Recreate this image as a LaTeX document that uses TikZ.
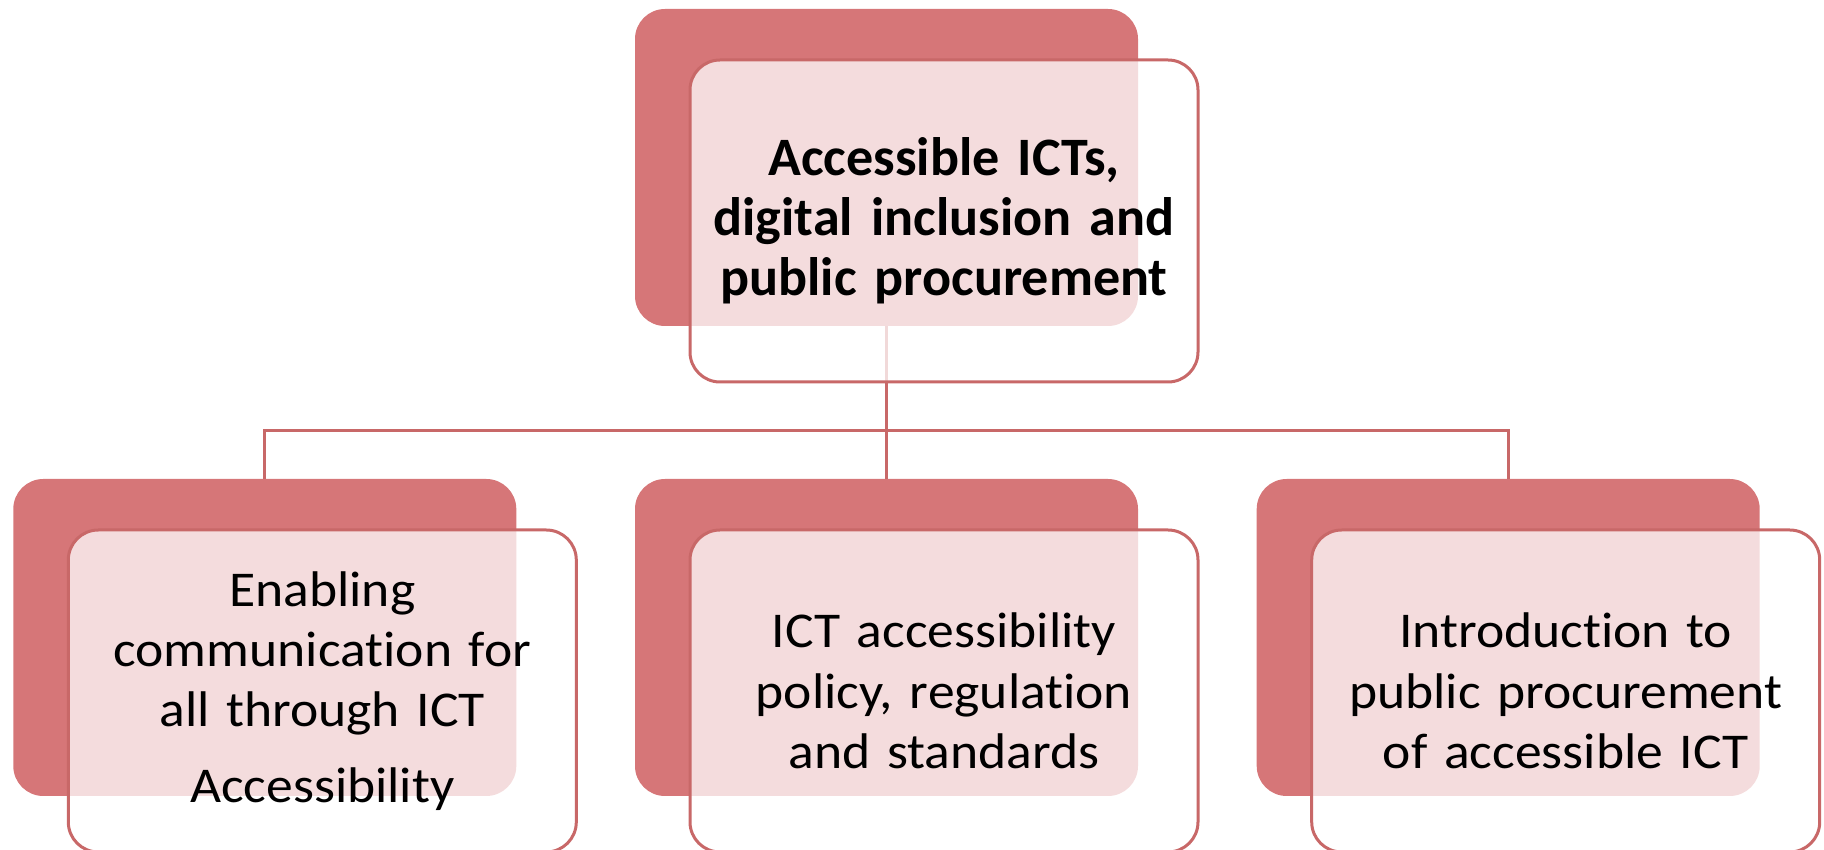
\documentclass[tikz,border=0pt]{standalone}
\usepackage{fontspec}
\setmainfont{Carlito}[Ligatures=NoCommon]
\newfontfamily\boxfont{Carlito}[Ligatures=NoCommon, FakeStretch=1.07, WordSpace=0.75]
\usepackage{tikz}
\usetikzlibrary{positioning,calc}
\definecolor{dfred}{RGB}{200,104,104}
\definecolor{dfbackred}{RGB}{214,118,120}
\tikzstyle{link} = [line width=0.06cm, color=dfred]
\tikzstyle{backbox} = [rectangle, rounded corners=0.6cm, minimum width=10.06cm, minimum height=6.34cm, fill=dfbackred]
\tikzstyle{frontbox} = [rectangle, rounded corners=0.6cm, minimum width=10.16cm, minimum height=6.44cm, draw=dfred, line width=0.06cm, fill=white, fill opacity=0.75, text opacity=1, text width=9.8cm, align=center, font=\boxfont\fontsize{28.5}{34.3}\selectfont]

\begin{document}
\begin{tikzpicture}
\useasboundingbox (0,0) rectangle (36.48,17);
% Back boxes
\node[backbox] (tb) at (17.73,13.65) {};
\node[backbox] (mb) at (17.73,4.25) {};
\node[backbox, left=2.36cm of mb] (lb) {};
\node[backbox, right=2.36cm of mb] (rb) {};
% Connectors
\draw[link] (tb.south) -- ++(0,-2.08) coordinate (bus);
\draw[link] (bus) -| (lb.north);
\draw[link] (bus) -- (mb.north);
\draw[link] (bus) -| (rb.north);
% Front boxes
\node[frontbox, font=\fontsize{30.8}{34.3}\selectfont\bfseries] (tf) at ([shift={(1.15,-1.07)}]tb) {Accessible ICTs,\\ digital inclusion and\\ public procurement};
\node[frontbox] (lf) at ([shift={(1.15,-1.07)}]lb) {Enabling\\ communication for\\ all through ICT\\[0.3cm] Accessibility};
\node[frontbox] (mf) at ([shift={(1.15,-1.07)}]mb) {ICT accessibility\\ policy, regulation\\ and standards};
\node[frontbox] (rf) at ([shift={(1.15,-1.07)}]rb) {Introduction to\\ public procurement\\ of accessible ICT};
\end{tikzpicture}
\end{document}
